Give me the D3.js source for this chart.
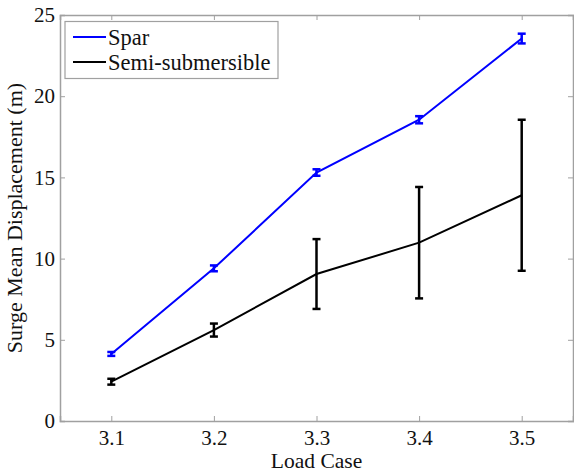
<!DOCTYPE html>
<html>
<head>
<meta charset="utf-8">
<script src="https://cdn.jsdelivr.net/npm/d3@7"></script>
<style>
  body { margin: 0; background: #fff; }
</style>
</head>
<body>
<div id="chart"></div>
<script>
// load cases on the x axis
var loadCases = [3.1, 3.2, 3.3, 3.4, 3.5];

// mean surge displacement (m) and error half-widths
var sparMean = [4.13, 9.4, 15.3, 18.55, 23.55];
var sparErr = [0.12, 0.18, 0.2, 0.22, 0.3];
var semiMean = [2.42, 5.6, 9.05, 10.98, 13.9];
var semiErr = [0.18, 0.4, 2.15, 3.43, 4.65];

var yTicks = [0, 5, 10, 15, 20, 25];

var width = 574, height = 473;
var margin = {left: 60, right: 1, top: 15, bottom: 52};
var serif = "Liberation Serif, DejaVu Serif, serif";

var svg = d3.select("#chart").append("svg")
    .attr("width", width)
    .attr("height", height)
    .attr("font-family", serif);

var x = d3.scaleLinear()
    .domain([3.05, 3.55])
    .range([margin.left, width - margin.right]);

var y = d3.scaleLinear()
    .domain([0, 25])
    .range([height - margin.bottom, margin.top]);

var boxColor = "#a0a0a0";

// Axes box and inward ticks
var xBottom = svg.append("g")
    .attr("transform", "translate(0," + y(0) + ")")
    .call(d3.axisBottom(x).tickValues(loadCases).tickSize(-5).tickPadding(9)
        .tickFormat(d3.format(".1f")));
var xTop = svg.append("g")
    .attr("transform", "translate(0," + y(25) + ")")
    .call(d3.axisTop(x).tickValues(loadCases).tickSize(-5).tickFormat(""));
var yLeft = svg.append("g")
    .attr("transform", "translate(" + x(3.05) + ",0)")
    .call(d3.axisLeft(y).tickValues(yTicks).tickSize(-5).tickPadding(5));
var yRight = svg.append("g")
    .attr("transform", "translate(" + x(3.55) + ",0)")
    .call(d3.axisRight(y).tickValues(yTicks).tickSize(-5).tickFormat(""));

[xBottom, xTop, yLeft, yRight].forEach(function(g) {
    g.attr("font-family", serif).attr("font-size", 21);
    g.select(".domain").attr("stroke", boxColor).attr("stroke-width", 1.5);
    g.selectAll(".tick line").attr("stroke", boxColor);
    g.selectAll("text").attr("fill", "#111");
});

// Axis titles
svg.append("text")
    .attr("x", (x(3.05) + x(3.55)) / 2)
    .attr("y", 468)
    .attr("text-anchor", "middle")
    .attr("font-size", 21.5)
    .attr("fill", "#111")
    .text("Load Case");

svg.append("text")
    .attr("transform", "translate(22," + (y(0) + y(25)) / 2 + ") rotate(-90)")
    .attr("text-anchor", "middle")
    .attr("font-size", 22)
    .attr("fill", "#111")
    .text("Surge Mean Displacement (m)");

// Series lines with error bars
var series = [
    {name: "Spar", color: "#0000ff", mean: sparMean, err: sparErr},
    {name: "Semi-submersible", color: "#000000", mean: semiMean, err: semiErr}
];

var line = d3.line()
    .x(function(d) { return x(d[0]); })
    .y(function(d) { return y(d[1]); });

series.forEach(function(s) {
    var pts = loadCases.map(function(c, i) { return [c, s.mean[i], s.err[i]]; });

    svg.append("path")
        .datum(pts)
        .attr("d", line)
        .attr("fill", "none")
        .attr("stroke", s.color)
        .attr("stroke-width", 2);

    var bars = svg.append("g");
    bars.selectAll(".bar")
        .data(pts)
        .enter().append("line")
        .attr("x1", function(d) { return x(d[0]); })
        .attr("x2", function(d) { return x(d[0]); })
        .attr("y1", function(d) { return y(d[1] - d[2]); })
        .attr("y2", function(d) { return y(d[1] + d[2]); })
        .attr("stroke", s.color)
        .attr("stroke-width", 2.5);

    [-1, 1].forEach(function(sign) {
        bars.selectAll(".cap" + sign)
            .data(pts)
            .enter().append("line")
            .attr("x1", function(d) { return x(d[0]) - 4; })
            .attr("x2", function(d) { return x(d[0]) + 4; })
            .attr("y1", function(d) { return y(d[1] + sign * d[2]); })
            .attr("y2", function(d) { return y(d[1] + sign * d[2]); })
            .attr("stroke", s.color)
            .attr("stroke-width", 2.5);
    });
});

// Legend
var legend = svg.append("g");
legend.append("rect")
    .attr("x", 65)
    .attr("y", 21.5)
    .attr("width", 213)
    .attr("height", 57)
    .attr("fill", "#fff")
    .attr("stroke", boxColor)
    .attr("stroke-width", 1.2);

series.forEach(function(s, i) {
    var ly = 37 + i * 25;
    legend.append("line")
        .attr("x1", 73)
        .attr("x2", 106)
        .attr("y1", ly)
        .attr("y2", ly)
        .attr("stroke", s.color)
        .attr("stroke-width", 2);
    legend.append("text")
        .attr("x", 108)
        .attr("y", ly + 7.5)
        .attr("font-size", 22.5)
        .attr("fill", "#111")
        .text(s.name);
});
</script>
</body>
</html>
